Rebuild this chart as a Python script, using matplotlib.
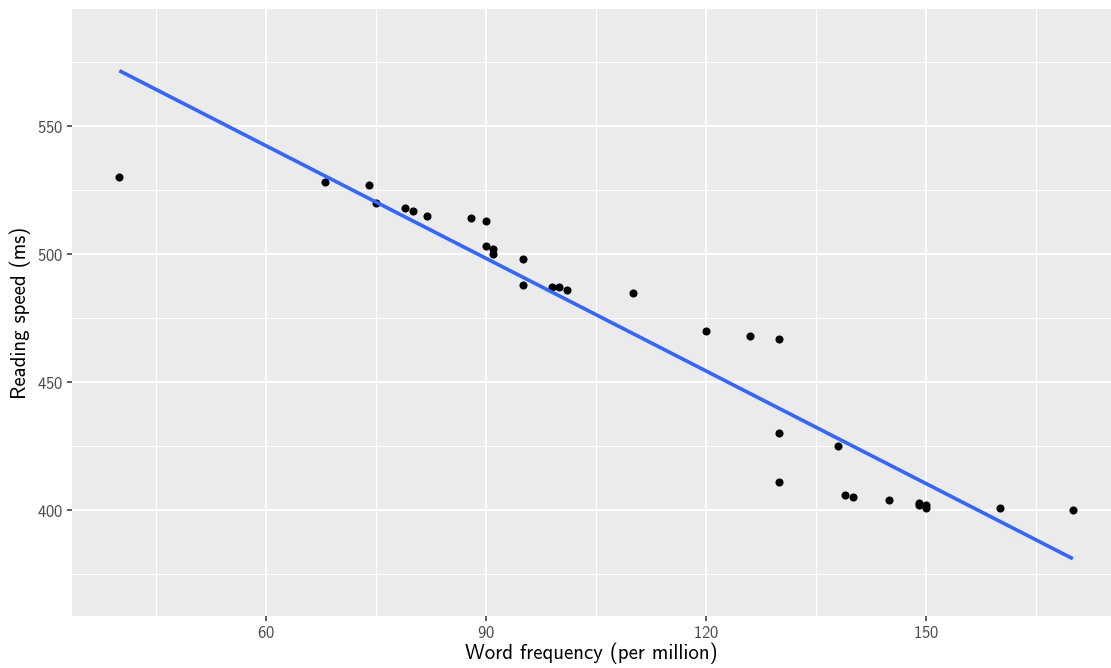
import numpy as np
import matplotlib
matplotlib.use("Agg")
from matplotlib import pyplot as plt

# word frequency (per million) and reading speed (ms)
freq = [40, 68, 74, 75, 79, 80, 82, 88, 90, 90, 91, 91, 95, 95, 99, 100, 101,
        110, 120, 126, 130, 130, 130, 138, 139, 140, 145, 149, 149, 150, 150,
        160, 170]
speed = [530, 528, 527, 520, 518, 517, 515, 514, 513, 503, 502, 500, 498, 488,
         487, 487, 486, 485, 470, 468, 467, 430, 411, 425, 406, 405, 404, 403,
         402, 402, 401, 401, 400]

x_ticks = [60, 90, 120, 150]
x_minor = [45, 75, 105, 135, 165]
y_ticks = [400, 450, 500, 550]
y_minor = [375, 425, 475, 525, 575]

plt.rcParams['font.family'] = ['cmss10', 'DejaVu Sans']
plt.rcParams['axes.formatter.use_mathtext'] = True

fig = plt.figure(figsize=(11.11, 6.68), dpi=100)
ax = fig.add_axes([72 / 1111, 52 / 668, 1039 / 1111, 607 / 668])
ax.set_facecolor('#EBEBEB')

for v in x_minor:
    ax.axvline(v, color='white', lw=0.75, zorder=0)
for v in y_minor:
    ax.axhline(v, color='white', lw=0.75, zorder=0)
for v in x_ticks:
    ax.axvline(v, color='white', lw=1.5, zorder=0)
for v in y_ticks:
    ax.axhline(v, color='white', lw=1.5, zorder=0)

ax.scatter(freq, speed, s=34, color='black', linewidths=0, zorder=3)

# linear fit (geom_smooth method = lm)
slope, icpt = np.polyfit(freq, speed, 1)
xs = np.array([min(freq), max(freq)])
ax.plot(xs, icpt + slope * xs, color='#3366FF', lw=2.6, zorder=4,
        solid_capstyle='butt')

ax.set_xlim(33.55, 175.2)
ax.set_ylim(358.7, 595.7)
ax.set_xticks(x_ticks)
ax.set_yticks(y_ticks)
ax.tick_params(axis='both', length=3.5, width=1.1, color='#333333',
               labelcolor='#4D4D4D', labelsize=12, pad=3)
for s in ax.spines.values():
    s.set_visible(False)

ax.set_xlabel('Word frequency (per million)', fontsize=15, color='black', labelpad=1)
ax.set_ylabel('Reading speed (ms)', fontsize=15, color='black', labelpad=4)

fig.savefig('out.png', dpi=100)
